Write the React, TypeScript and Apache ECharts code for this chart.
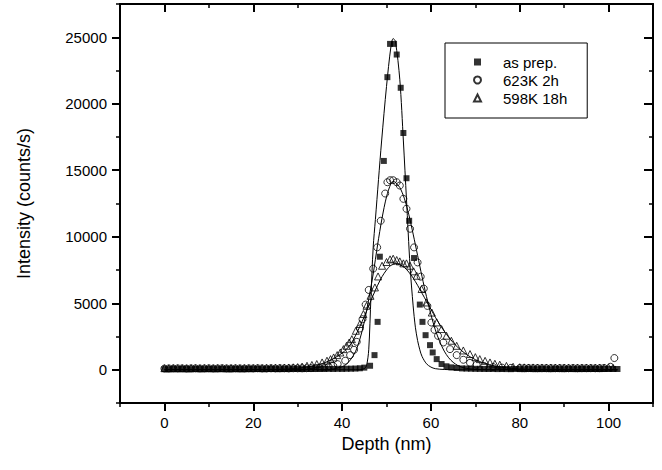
import React, { useEffect, useRef } from "react";
import * as echarts from "echarts";

// ---- data ----
const seriesNames = ["as prep.", "623K 2h", "598K 18h"];

const xMajorTicks = [0, 20, 40, 60, 80, 100];
const yMajorTicks = [0, 5000, 10000, 15000, 20000, 25000];

// as prepared (filled squares): [depth nm, counts/s]
const asPrep: [number, number][] = [
  [0, 50], [1, 40], [2, 60], [3, 45], [4, 55], [5, 50], [6, 40], [7, 60], [8, 50], [9, 45],
  [10, 55], [11, 50], [12, 45], [13, 60], [14, 50], [15, 40], [16, 55], [17, 50], [18, 45], [19, 60],
  [20, 50], [21, 55], [22, 45], [23, 50], [24, 60], [25, 50], [26, 45], [27, 55], [28, 50], [29, 60],
  [30, 55], [31, 50], [32, 60], [33, 55], [34, 65], [35, 60], [36, 55], [37, 65], [38, 60], [39, 70],
  [40, 65], [41, 75], [42, 80], [43, 90], [44, 110], [45, 160], [46.3, 300], [47.3, 1100], [48.0, 3600],
  [48.5, 8500], [49.4, 15700], [50.2, 22000], [50.8, 24500], [51.7, 24500], [52.3, 23700], [53.2, 21200],
  [53.8, 17800], [54.5, 14400], [55.1, 11200], [56.2, 8400], [57.5, 4900], [58.1, 3600], [58.8, 2600],
  [59.8, 1850], [60.4, 1300], [61.3, 800], [62.4, 430], [63.5, 260], [64.6, 180], [65.8, 130],
  [67, 100], [68, 90], [69, 80], [70, 70], [71, 65], [72, 60], [73, 55], [74, 60], [75, 50], [76, 55],
  [77, 50], [78, 45], [79, 55], [80, 50], [81, 45], [82, 55], [83, 50], [84, 45], [85, 55], [86, 50],
  [87, 45], [88, 55], [89, 50], [90, 45], [91, 55], [92, 50], [93, 45], [94, 55], [95, 50], [96, 60],
  [97, 55], [98, 50], [99, 60], [100, 55], [101, 60], [102, 55],
];

// annealed 623 K 2 h (open circles)
const annealed623: [number, number][] = [
  [0, 90], [1, 100], [2, 95], [3, 105], [4, 100], [5, 90], [6, 100], [7, 110], [8, 95], [9, 100],
  [10, 105], [11, 95], [12, 100], [13, 110], [14, 100], [15, 95], [16, 105], [17, 100], [18, 95], [19, 105],
  [20, 100], [21, 110], [22, 100], [23, 95], [24, 105], [25, 100], [26, 110], [27, 105], [28, 100], [29, 110],
  [30, 105], [31, 110], [32, 115], [33, 120], [34, 130], [35, 150], [36, 180], [37, 220], [38, 300], [39, 420],
  [40.7, 680], [41.8, 1100], [42.7, 1500], [43.3, 2100], [44.0, 3100], [44.6, 3800], [45.3, 4900], [46.0, 6000],
  [47.0, 7600], [47.9, 9200], [48.7, 11200], [49.7, 13250], [50.2, 14100], [50.8, 14250], [51.5, 14250],
  [52.3, 14100], [53.0, 13850], [53.8, 12850], [54.5, 12100], [55.3, 10600], [56.2, 9200], [57.0, 8070],
  [57.7, 7000], [58.4, 6100], [59.2, 4800], [60.1, 3550], [60.8, 3000], [61.6, 2550], [62.8, 2050],
  [64.3, 1550], [65.8, 1100], [67.3, 750], [68.8, 520], [70.3, 380], [72, 280], [74, 200], [76, 160],
  [78, 140], [80, 130], [81, 120], [82, 125], [83, 115], [84, 120], [85, 110], [86, 120], [87, 115],
  [88, 110], [89, 120], [90, 115], [91, 110], [92, 120], [93, 115], [94, 110], [95, 120], [96, 115],
  [97, 110], [98, 120], [99, 130], [100.4, 225], [101.3, 880],
];

// annealed 598 K 18 h (open triangles)
const annealed598: [number, number][] = [
  [0, 120], [1, 110], [2, 125], [3, 115], [4, 120], [5, 110], [6, 125], [7, 120], [8, 115], [9, 125],
  [10, 120], [11, 115], [12, 125], [13, 120], [14, 110], [15, 125], [16, 120], [17, 115], [18, 125], [19, 120],
  [20, 125], [21, 130], [22, 125], [23, 135], [24, 140], [25, 145], [26, 150], [27, 160], [28, 170], [29, 185],
  [30, 200], [31, 240], [32.1, 300], [33.2, 360], [34.3, 430], [35.5, 550], [36.6, 680], [37.4, 800],
  [38.1, 925], [38.9, 1100], [39.6, 1300], [40.3, 1550], [41.0, 1800], [41.6, 2050], [42.2, 2300],
  [43.1, 2930], [44.0, 3440], [44.8, 4190], [45.5, 4810], [46.4, 5560], [47.4, 6190], [48.1, 7015],
  [49.0, 7820], [50.0, 8100], [50.8, 8300], [51.5, 8350], [52.3, 8250], [53.0, 8150], [53.8, 8000],
  [54.5, 8000], [55.3, 7820], [56.1, 7400], [56.8, 7070], [57.9, 6070], [59.0, 5060], [60.2, 4300],
  [61.3, 3560], [62.4, 3060], [63.5, 2560], [64.6, 2180], [65.8, 1800], [67.3, 1450], [68.8, 1180],
  [70, 950], [71, 800], [72.2, 670], [73.3, 550], [74.4, 450], [75.5, 380], [77, 290], [78.5, 225],
  [80, 190], [81, 180], [82, 170], [83, 175], [84, 165], [85, 170], [86, 160], [87, 165], [88, 160],
  [89, 155], [90, 160], [91, 150], [92, 155], [93, 150], [94, 160], [95, 150], [96, 155], [97, 150],
  [98, 155], [99, 150], [100, 160], [101, 150],
];

// fitted profiles (thin lines)
const fitAsPrep: [number, number][] = [
  [0, 0], [40, 0], [44, 0], [45, 80], [45.5, 300], [46, 1500], [46.5, 5500], [47, 9200], [47.5, 11300],
  [48.2, 14300], [48.9, 17200], [50, 21300], [51, 24300], [51.5, 24900], [52, 24700], [53, 21800],
  [53.8, 17200], [54.5, 12800], [55.3, 7800], [56, 4800], [56.5, 3200], [57, 2200], [57.5, 1500],
  [58, 1000], [59, 450], [60, 200], [61, 80], [63, 20], [66, 0], [102, 0],
];

const fit623: [number, number][] = [
  [0, 0], [34, 0], [36, 10], [38, 50], [40, 220], [41, 420], [42, 800], [43, 1350], [44, 2300],
  [45, 3600], [46, 5300], [47, 7200], [48, 9400], [49, 11400], [50, 13000], [51, 14000], [51.5, 14150],
  [52, 14100], [53, 13700], [54, 12900], [55, 11700], [56, 10200], [57, 8600], [58, 7000], [59, 5500],
  [60, 4150], [61, 3000], [62, 2100], [63, 1400], [64, 900], [65, 560], [66, 330], [67, 190], [68, 100],
  [70, 30], [74, 0], [102, 0],
];

const fit598: [number, number][] = [
  [0, 0], [22, 0], [25, 20], [28, 60], [30, 110], [32, 200], [34, 330], [36, 520], [38, 820], [40, 1250],
  [41, 1550], [42, 1950], [43, 2550], [44, 3250], [45, 4000], [46, 4800], [47, 5600], [48, 6350],
  [49, 7000], [50, 7500], [51, 7850], [52, 7950], [53, 7900], [54, 7700], [55, 7350], [56, 6900],
  [57, 6350], [58, 5750], [59, 5150], [60, 4550], [61, 3950], [62, 3400], [63, 2900], [64, 2450],
  [65, 2050], [66, 1700], [68, 1150], [70, 760], [72, 490], [74, 310], [76, 190], [78, 110], [80, 60],
  [84, 15], [88, 0], [102, 0],
];

const FONT = "'Liberation Sans', Arial, Helvetica, sans-serif";

export default function App() {
  const ref = useRef<HTMLDivElement>(null);

  useEffect(() => {
    document.body.style.margin = "0";
    if (!ref.current) return;
    const chart = echarts.init(ref.current, null, { renderer: "svg" });

    const xBase = { type: "value", min: -10, max: 110, splitLine: { show: false }, gridIndex: 0 };
    const yBase = { type: "value", min: -2500, max: 27500, splitLine: { show: false }, gridIndex: 0 };
    const line = { show: true, onZero: false, lineStyle: { color: "#000", width: 2 } };
    const noLine = { show: false, onZero: false };

    const scatterStyle = (symbol: string, size: number, filled: boolean) => ({
      type: "scatter",
      symbol,
      symbolSize: size,
      xAxisIndex: 0,
      yAxisIndex: 0,
      itemStyle: filled
        ? { color: "#000" }
        : { color: "rgba(0,0,0,0)", borderColor: "#000", borderWidth: 1 },
      silent: true,
    });

    const fitLine = (data: [number, number][]) => ({
      type: "line",
      data,
      xAxisIndex: 0,
      yAxisIndex: 0,
      symbol: "none",
      showSymbol: false,
      smooth: 0.3,
      lineStyle: { color: "#000", width: 1 },
      silent: true,
      z: 1,
    });

    chart.setOption({
      animation: false,
      backgroundColor: "#fff",
      textStyle: { fontFamily: FONT },
      grid: { left: 120, right: 9, top: 4, bottom: 67, containLabel: false },
      legend: {
        data: seriesNames,
        orient: "vertical",
        left: 445,
        top: 43,
        padding: [10, 20, 11, 28],
        itemWidth: 7,
        itemHeight: 7,
        itemGap: 0,
        borderColor: "#000",
        borderWidth: 1,
        selectedMode: false,
        textStyle: { fontSize: 15, color: "#000", fontFamily: FONT, lineHeight: 18, padding: [0, 0, 0, 17] },
      },
      xAxis: [
        {
          ...xBase,
          position: "bottom",
          interval: 10,
          axisLine: line,
          axisTick: { show: true, inside: false, length: 4, lineStyle: { color: "#000", width: 1.5 } },
          axisLabel: {
            show: true,
            margin: 12,
            fontSize: 15,
            color: "#000",
            fontFamily: FONT,
            formatter: (v: number) => (xMajorTicks.indexOf(v) >= 0 ? String(v) : ""),
          },
          name: "Depth (nm)",
          nameLocation: "middle",
          nameGap: 30,
          nameTextStyle: { fontSize: 18, color: "#000", fontFamily: FONT },
        },
        {
          ...xBase,
          position: "bottom",
          axisLine: noLine,
          axisTick: { show: true, inside: false, length: 8, customValues: xMajorTicks, lineStyle: { color: "#000", width: 2 } },
          axisLabel: { show: false },
        },
        {
          ...xBase,
          position: "top",
          interval: 10,
          axisLine: line,
          axisTick: { show: true, inside: true, length: 4, lineStyle: { color: "#000", width: 1.5 } },
          axisLabel: { show: false },
        },
        {
          ...xBase,
          position: "top",
          axisLine: noLine,
          axisTick: { show: true, inside: true, length: 8, customValues: xMajorTicks, lineStyle: { color: "#000", width: 2 } },
          axisLabel: { show: false },
        },
      ],
      yAxis: [
        {
          ...yBase,
          position: "left",
          interval: 2500,
          axisLine: line,
          axisTick: { show: true, inside: false, length: 4, lineStyle: { color: "#000", width: 1.5 } },
          axisLabel: {
            show: true,
            margin: 13,
            fontSize: 15,
            color: "#000",
            fontFamily: FONT,
            formatter: (v: number) => (yMajorTicks.indexOf(v) >= 0 ? String(v) : ""),
          },
          name: "Intensity (counts/s)",
          nameLocation: "middle",
          nameGap: 87,
          nameTextStyle: { fontSize: 18, color: "#000", fontFamily: FONT },
        },
        {
          ...yBase,
          position: "left",
          axisLine: noLine,
          axisTick: { show: true, inside: false, length: 8, customValues: yMajorTicks, lineStyle: { color: "#000", width: 2 } },
          axisLabel: { show: false },
        },
        {
          ...yBase,
          position: "right",
          interval: 2500,
          axisLine: line,
          axisTick: { show: true, inside: true, length: 4, lineStyle: { color: "#000", width: 1.5 } },
          axisLabel: { show: false },
        },
        {
          ...yBase,
          position: "right",
          axisLine: noLine,
          axisTick: { show: true, inside: true, length: 9, customValues: yMajorTicks, lineStyle: { color: "#000", width: 2 } },
          axisLabel: { show: false },
        },
      ],
      series: [
        fitLine(fitAsPrep),
        fitLine(fit623),
        fitLine(fit598),
        { ...scatterStyle("rect", 6, true), name: seriesNames[0], data: asPrep, z: 3 },
        { ...scatterStyle("circle", 7, false), name: seriesNames[1], data: annealed623, z: 2 },
        { ...scatterStyle("triangle", 7, false), name: seriesNames[2], data: annealed598, z: 2 },
      ],
    });

    return () => {
      chart.dispose();
    };
  }, []);

  return <div ref={ref} style={{ width: 662, height: 470 }} />;
}
